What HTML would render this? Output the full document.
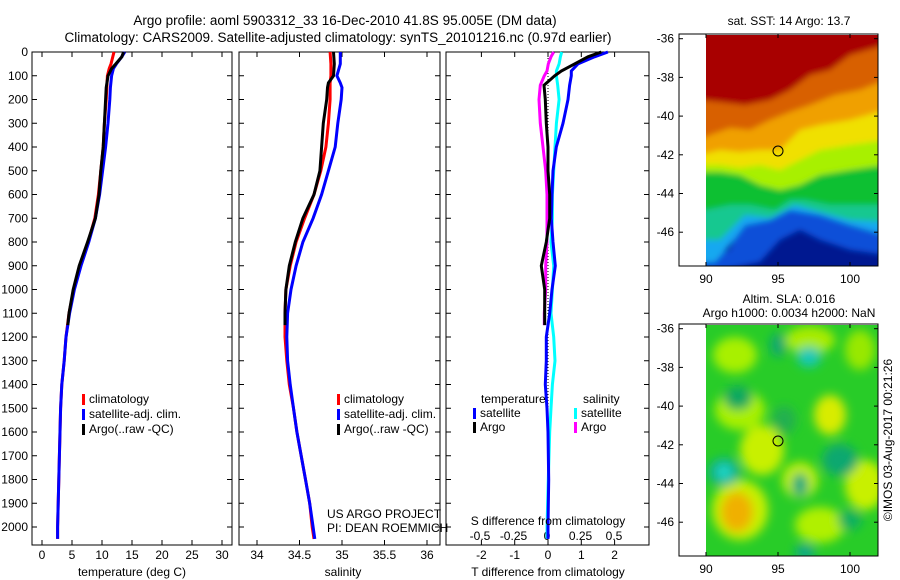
<!DOCTYPE html>
<html><head><meta charset="utf-8">
<style>
body{margin:0;background:#fff;}
svg{display:block;font-family:"Liberation Sans",sans-serif;}
text{fill:#000;}
</style></head>
<body>
<svg id="fig" width="900" height="580" viewBox="0 0 900 580">
<text x="345" y="25" font-size="13.5" text-anchor="middle">Argo profile: aoml 5903312_33 16-Dec-2010 41.8S 95.005E (DM data)</text>
<text x="338" y="42" font-size="13.5" text-anchor="middle">Climatology: CARS2009. Satellite-adjusted climatology: synTS_20101216.nc (0.97d earlier)</text>
<g id="panels"></g>
<defs><filter id="blr" x="-20%" y="-20%" width="140%" height="140%"><feGaussianBlur stdDeviation="3"/></filter>
<filter id="blr2" x="-50%" y="-50%" width="200%" height="200%"><feGaussianBlur stdDeviation="5"/></filter>
<clipPath id="clipTop"><rect x="706" y="35" width="172" height="231"/></clipPath>
<clipPath id="clipBot"><rect x="706" y="325" width="172" height="231"/></clipPath></defs>

<g>
<text x="789" y="25" font-size="12" text-anchor="middle">sat. SST: 14 Argo: 13.7</text>
<g clip-path="url(#clipTop)">
<rect x="706" y="35" width="172" height="231" fill="#001890"/>
<g filter="url(#blr)">
<polygon fill="#0850d8" points="700,260 730,250 740,225 760,215 790,205 820,215 850,225 885,235 885,255 850,250 820,240 800,230 780,240 760,262 700,275"/>
<polygon fill="#18a8f0" points="700,30 885,30 885,235 850,225 820,215 790,210 770,220 745,225 730,245 715,262 700,262"/>
<polygon fill="#18c890" points="700,30 885,30 885,222 850,220 820,212 795,205 770,218 745,215 730,230 720,240 706,240 700,240"/>
<polygon fill="#10c030" points="700,30 885,30 885,205 860,205 830,205 805,200 790,200 775,210 750,205 730,205 706,210 700,210"/>
<polygon fill="#a8f000" points="700,30 885,30 885,165 850,170 820,175 800,185 780,190 760,185 740,175 720,172 700,172"/>
<polygon fill="#f0e000" points="700,30 885,30 885,140 850,145 820,150 800,160 780,170 760,165 740,168 720,165 700,165"/>
<polygon fill="#f0a000" points="700,30 885,30 885,110 850,120 820,125 800,130 780,150 760,150 740,152 720,150 700,155"/>
<polygon fill="#d86000" points="700,30 885,30 885,80 860,90 835,95 810,105 790,112 770,120 750,130 730,128 710,135 700,140"/>
<polygon fill="#a80000" points="700,30 885,30 885,45 850,55 830,70 810,75 790,90 770,100 745,105 720,102 700,100"/>
</g></g>
<circle cx="778" cy="151" r="5" fill="none" stroke="#000" stroke-width="1"/>
</g>

<g>
<text x="789" y="303" font-size="12" text-anchor="middle">Altim. SLA: 0.016</text>
<text x="789" y="317" font-size="12" text-anchor="middle">Argo h1000: 0.0034 h2000: NaN</text>
<g clip-path="url(#clipBot)">
<rect x="706" y="325" width="172" height="231" fill="#28cc28"/>
<g filter="url(#blr2)">
<ellipse cx="735" cy="355" rx="22" ry="18" fill="#a8f000"/>
<ellipse cx="810" cy="340" rx="25" ry="14" fill="#a8ec00"/>
<ellipse cx="860" cy="350" rx="15" ry="20" fill="#98e800"/>
<ellipse cx="740" cy="410" rx="25" ry="20" fill="#a8f000"/>
<ellipse cx="762" cy="450" rx="22" ry="25" fill="#c8f000"/>
<ellipse cx="830" cy="415" rx="16" ry="20" fill="#d8ec00"/>
<ellipse cx="740" cy="510" rx="28" ry="30" fill="#c8f000"/>
<ellipse cx="737" cy="512" rx="16" ry="20" fill="#f0b000"/>
<ellipse cx="800" cy="480" rx="18" ry="18" fill="#c0f000"/>
<ellipse cx="865" cy="485" rx="20" ry="25" fill="#c8f000"/>
<ellipse cx="820" cy="525" rx="25" ry="18" fill="#b0f000"/>
<ellipse cx="778" cy="345" rx="8" ry="12" fill="#10a870"/>
<ellipse cx="809" cy="357" rx="12" ry="10" fill="#18c8b8"/>
<ellipse cx="738" cy="398" rx="14" ry="12" fill="#10a860"/>
<ellipse cx="724" cy="472" rx="16" ry="14" fill="#10b090"/>
<ellipse cx="724" cy="472" rx="7" ry="8" fill="#20d8c8"/>
<ellipse cx="840" cy="460" rx="18" ry="16" fill="#10a870"/>
<ellipse cx="800" cy="485" rx="8" ry="12" fill="#10a880"/>
<ellipse cx="784" cy="420" rx="12" ry="14" fill="#20b050"/>
<ellipse cx="850" cy="520" rx="12" ry="10" fill="#10b060"/>
<ellipse cx="805" cy="552" rx="10" ry="8" fill="#10a888"/>
</g></g>
<circle cx="778" cy="441" r="5" fill="none" stroke="#000" stroke-width="1"/>
<text transform="translate(892,440) rotate(-90)" font-size="12" text-anchor="middle">©IMOS 03-Aug-2017 00:21:26</text>
</g>
<g id="mapaxes"></g>
</svg>
<script>
const depthT = [0,20,50,70,100,150,200,300,400,500,600,700,800,900,1000,1100,1200,1300,1400,1500,1600,1800,2000,2050];
const tempClim = [12.0,11.8,11.5,11.2,10.9,10.8,10.7,10.4,10.2,9.8,9.4,8.8,7.7,6.3,5.3,4.5,4.0,3.7,3.3,3.1,3.0,2.8,2.6,2.6];
const tempSat  = [13.8,13.3,12.4,11.9,11.6,11.4,11.3,11.0,10.6,10.1,9.6,8.9,7.8,6.5,5.4,4.6,4.0,3.7,3.3,3.1,3.0,2.8,2.6,2.6];
const depthA = [0,20,50,70,100,150,200,300,400,500,600,700,800,900,1000,1100,1150];
const tempArgo = [13.6,13.3,12.3,11.6,11.0,10.7,10.6,10.4,10.2,9.8,9.5,8.9,7.6,6.2,5.2,4.5,4.3];
const depthS = [0,50,100,130,150,200,300,400,500,600,700,800,900,1000,1100,1200,1300,1400,1500,1600,1700,1800,1900,2000,2050];
const salClim = [34.86,34.87,34.87,34.86,34.86,34.86,34.84,34.81,34.75,34.67,34.56,34.46,34.39,34.34,34.33,34.33,34.35,34.38,34.43,34.47,34.52,34.57,34.62,34.65,34.67];
const salSat  = [34.98,34.98,34.94,34.98,35.0,34.99,34.95,34.92,34.84,34.76,34.66,34.54,34.46,34.40,34.36,34.35,34.36,34.39,34.43,34.47,34.52,34.57,34.62,34.66,34.68];
const depthSA = [0,50,100,130,150,200,300,400,500,600,700,800,900,1000,1100,1150];
const salArgo = [34.90,34.91,34.90,34.84,34.83,34.82,34.78,34.76,34.74,34.67,34.54,34.45,34.38,34.34,34.33,34.33];
const depthD = [0,20,50,80,100,140,200,300,400,500,600,700,800,900,1000,1100,1200,1300,1400,1500,1600,1800,2000,2050];
const dTsat = [1.8,1.4,0.9,0.7,0.7,0.65,0.6,0.45,0.25,0.15,0.12,0.1,0.15,0.22,0.12,0.05,-0.05,-0.05,-0.08,-0.03,0.0,0.02,0.0,0.0];
const dSsat = [0.11,0.10,0.09,0.07,0.07,0.08,0.09,0.07,0.06,0.05,0.04,0.04,0.03,0.05,0.04,0.03,0.05,0.06,0.04,0.03,0.02,0.01,0.0,0.0];
const depthDA = [0,20,50,80,100,140,200,300,400,500,600,700,800,900,1000,1100,1150];
const dTargo = [1.6,1.2,0.8,0.4,0.2,-0.12,-0.08,-0.05,0.0,0.0,0.05,0.05,-0.05,-0.2,-0.1,-0.1,-0.1];
const dSargo = [0.05,0.03,0.01,0.0,-0.02,-0.05,-0.06,-0.05,-0.03,-0.01,0.0,0.0,0.0,-0.01,-0.01,-0.02,-0.02];
const depthTicks = [0,100,200,300,400,500,600,700,800,900,1000,1100,1200,1300,1400,1500,1600,1700,1800,1900,2000];
const tTicks = [0,5,10,15,20,25,30];
const sTicks = [34,34.5,35,35.5,36];
const dTTicks = [-2,-1,0,1,2];
const dSTicks = [-0.5,-0.25,0,0.25,0.5];
const dSTickLabels = ['-0.5','-0.25','0','0.25','0.5'];
const lonTicks = [90,95,100];
const latTicks = [-36,-38,-40,-42,-44,-46];

const NS='http://www.w3.org/2000/svg';
const G=document.getElementById('panels');
function mk(tag,attrs,parent){const e=document.createElementNS(NS,tag);for(const k in attrs)e.setAttribute(k,attrs[k]);(parent||G).appendChild(e);return e;}
const TOP=52,BOT=545;
const yD=d=>TOP+d*(475/2000);

function panel(x0,x1,name){
  const g=mk('g',{});
  
  
  mk('rect',{x:x0,y:TOP,width:x1-x0,height:BOT-TOP,fill:'none',stroke:'#000','stroke-width':1},g);
  depthTicks.forEach(d=>{const y=yD(d);
    mk('line',{x1:x0,x2:x0+5,y1:y,y2:y,stroke:'#000'},g);
    mk('line',{x1:x1-5,x2:x1,y1:y,y2:y,stroke:'#000'},g);});
  return g;
}
function xticks(g,ticks,sx,labels,ly,bottom){
  ticks.forEach((t,i)=>{const x=sx(t);
    if(bottom){mk('line',{x1:x,x2:x,y1:BOT,y2:BOT-5,stroke:'#000'},g);mk('line',{x1:x,x2:x,y1:TOP,y2:TOP+5,stroke:'#000'},g);}
    const tx=mk('text',{x:x,y:ly,'font-size':12,'text-anchor':'middle'},g);tx.textContent=labels?labels[i]:String(t);
    
    
  });
}
function line(g,xs,ds,sx,color,name,w){
  const pts=xs.map((v,i)=>sx(v).toFixed(1)+','+yD(ds[i]).toFixed(1)).join(' ');
  const p=mk('polyline',{points:pts,fill:'none',stroke:color,'stroke-width':w||3},g);
  
  
}
function txt(g,x,y,s,name,anchor,size){const t=mk('text',{x:x,y:y,'font-size':size||12,'text-anchor':anchor||'start'},g);t.textContent=s;
  
  return t;}
function legend(g,x,y,color,label){
  const r=mk('rect',{x:x,y:y-9,width:3,height:11,fill:color},g);
  
  
  txt(g,x+7,y,label,'legend-entry');
}

depthTicks.forEach(d=>{txt(G,28,yD(d)+4,String(d),'y-tick-label','end');});

const sxT=v=>42+v*6;
const p1=panel(32,232,'temperature-panel');
xticks(p1,tTicks,sxT,null,559,true);
line(p1,tempClim,depthT,sxT,'#ff0000','temp-climatology-line');
line(p1,tempSat,depthT,sxT,'#0000ff','temp-satellite-line');
line(p1,tempArgo,depthA,sxT,'#000000','temp-argo-line');
legend(p1,82,403,'#ff0000','climatology');
legend(p1,82,418,'#0000ff','satellite-adj. clim.');
legend(p1,82,433,'#000000','Argo(..raw -QC)');
txt(p1,132,576,'temperature (deg C)','x-axis-title','middle');

const sxS=v=>257+(v-34)*85;
const p2=panel(239,440,'salinity-panel');
xticks(p2,sTicks,sxS,null,559,true);
line(p2,salClim,depthS,sxS,'#ff0000','sal-climatology-line');
line(p2,salSat,depthS,sxS,'#0000ff','sal-satellite-line');
line(p2,salArgo,depthSA,sxS,'#000000','sal-argo-line');
legend(p2,337,403,'#ff0000','climatology');
legend(p2,337,418,'#0000ff','satellite-adj. clim.');
legend(p2,337,433,'#000000','Argo(..raw -QC)');
txt(p2,343,576,'salinity','x-axis-title','middle');
txt(p2,327,518,'US ARGO PROJECT','credit-line-1');
txt(p2,327,532,'PI: DEAN ROEMMICH','credit-line-2');

const sxDT=v=>548+v*33.3;
const sxDS=v=>547+v*134;
const p3=panel(446,649,'difference-panel');
mk('line',{x1:548,x2:548,y1:TOP,y2:BOT,stroke:'#000','stroke-dasharray':'1,2','stroke-width':1},p3);
xticks(p3,dTTicks,sxDT,null,559,true);
xticks(p3,dSTicks,sxDS,dSTickLabels,540,false);
line(p3,dSsat,depthD,sxDS,'#00ffff','sal-diff-satellite-line');
line(p3,dTsat,depthD,sxDT,'#0000ff','temp-diff-satellite-line');
line(p3,dSargo,depthDA,sxDS,'#ff00ff','sal-diff-argo-line');
line(p3,dTargo,depthDA,sxDT,'#000000','temp-diff-argo-line');
txt(p3,481,403,'temperature','legend-title-temperature');
legend(p3,473,417,'#0000ff','satellite');
legend(p3,473,431,'#000000','Argo');
txt(p3,583,403,'salinity','legend-title-salinity');
legend(p3,574,417,'#00ffff','satellite');
legend(p3,574,431,'#ff00ff','Argo');
txt(p3,548,525,'S difference from climatology','s-axis-title','middle');
txt(p3,548,576,'T difference from climatology','t-axis-title','middle');

const MA=document.getElementById('mapaxes');
function mapAxes(top,name){
  const g=mk('g',{},MA);
  
  
  const bot=top+232;
  const sxL=v=>706+(v-90)*14.4;
  const syL=v=>top+4.7+(-36-v)*19.35;
  mk('rect',{x:679,y:top,width:199,height:232,fill:'none',stroke:'#000'},g);
  lonTicks.forEach(l=>{const x=sxL(l);
    mk('line',{x1:x,x2:x,y1:bot,y2:bot-4,stroke:'#000'},g);mk('line',{x1:x,x2:x,y1:top,y2:top+4,stroke:'#000'},g);
    txt(g,x,bot+17,String(l),'lon-tick-label','middle');});
  latTicks.forEach(l=>{const y=syL(l);
    mk('line',{x1:679,x2:683,y1:y,y2:y,stroke:'#000'},g);mk('line',{x1:874,x2:878,y1:y,y2:y,stroke:'#000'},g);
    txt(g,674,y+4,String(l),'lat-tick-label','end');});
}
mapAxes(34,'sst-map-axes');
mapAxes(324,'sla-map-axes');
</script>
</body></html>
